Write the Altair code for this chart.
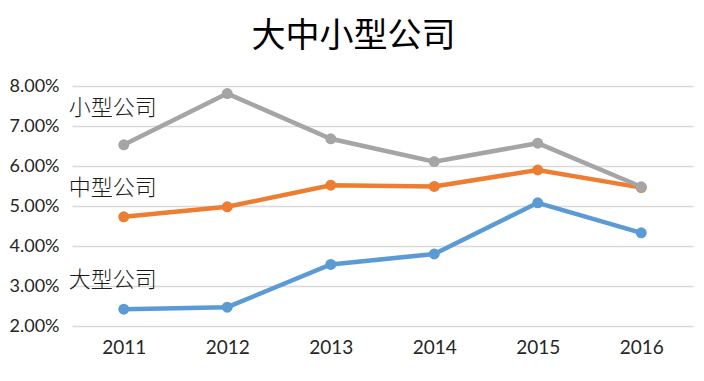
import altair as alt
import pandas as pd

years = ["2011", "2012", "2013", "2014", "2015", "2016"]
small = [6.53, 7.81, 6.68, 6.11, 6.57, 5.48]
medium = [4.73, 4.98, 5.52, 5.49, 5.90, 5.46]
large = [2.42, 2.47, 3.54, 3.80, 5.08, 4.33]
series_names = ["大型公司", "中型公司", "小型公司"]
series_colors = ["#5B9BD5", "#ED7D31", "#A5A5A5"]
label_values = [3.15, 5.45, 7.45]

rows = []
for name, vals in zip(series_names, [large, medium, small]):
    for y, v in zip(years, vals):
        rows.append({"year": y, "value": v / 100, "series": name})
df = pd.DataFrame(rows)

lab = pd.DataFrame({"year": [years[0]] * 3, "value": [v / 100 for v in label_values], "series": series_names})

font = "Noto Sans CJK SC"

x = alt.X("year:N", sort=years, title=None,
          scale=alt.Scale(paddingInner=0, paddingOuter=0.5),
          axis=alt.Axis(labelAngle=0, labelFontSize=19, labelColor="#262626", labelFont="Lato",
                        ticks=False, domain=False, labelPadding=12, grid=False))
y = alt.Y("value:Q", title=None,
          scale=alt.Scale(domain=[0.02, 0.08], nice=False, zero=False),
          axis=alt.Axis(format=".2%", values=[0.02, 0.03, 0.04, 0.05, 0.06, 0.07, 0.08],
                        labelFontSize=18, labelColor="#262626", labelFont="Lato",
                        labelOverlap=False, labelFlush=False,
                        ticks=False, domain=False, labelPadding=13,
                        gridColor="#D9D9D9", gridWidth=1.5))
color = alt.Color("series:N", scale=alt.Scale(domain=series_names, range=series_colors), legend=None)

lines = alt.Chart(df).mark_line(strokeWidth=4.5).encode(x=x, y=y, color=color, detail="series:N")
pts = alt.Chart(df).mark_point(filled=True, size=120, opacity=1).encode(x=x, y=y, color=color)
txt = alt.Chart(lab).mark_text(fontSize=22, font=font, fontWeight=300, color="#1a1a1a", dx=-11).encode(
    x=x, y=y, text="series:N")

chart = alt.layer(lines, pts, txt).properties(
    width=621, height=240,
    autosize=alt.AutoSizeParams(type="none"),
    padding={"left": 64, "top": 78, "right": 3, "bottom": 47},
    title=alt.TitleParams("大中小型公司", fontSize=34, font=font, fontWeight="normal",
                          color="#000000", anchor="middle", dx=-29, offset=23),
).configure_view(stroke=None).configure_axis(labelOverlap=False)

chart.save("out.html", embed_options={"renderer": "svg", "actions": False})
